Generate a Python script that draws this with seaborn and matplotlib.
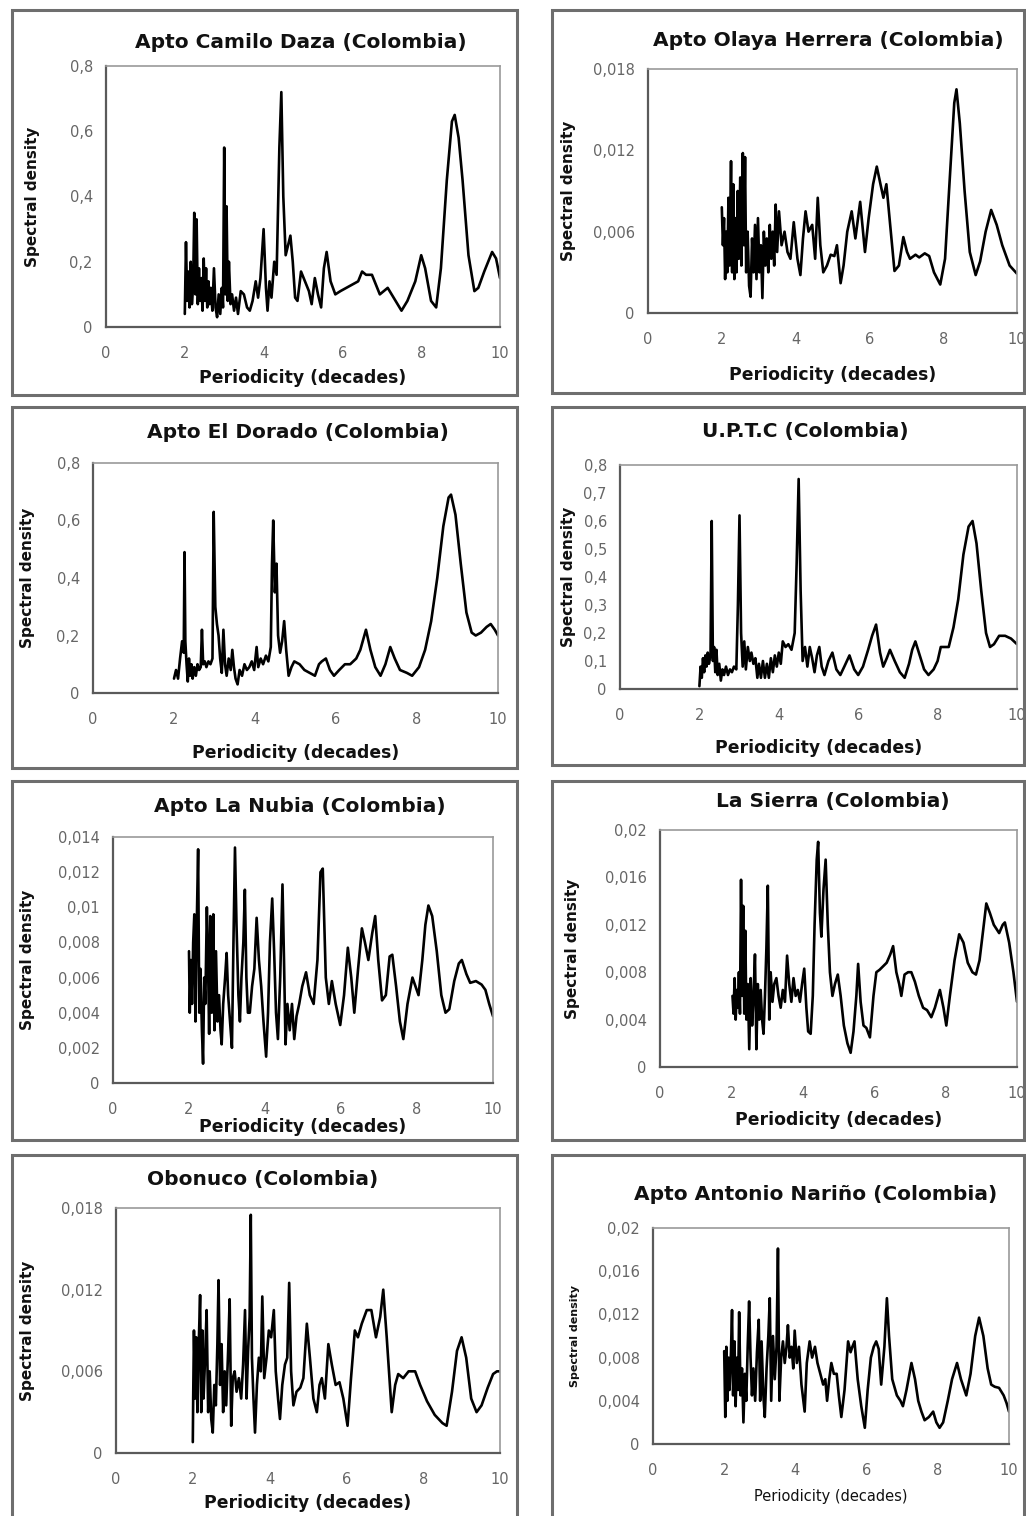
import matplotlib
matplotlib.use("Agg")
import matplotlib.pyplot as plt
import matplotlib.patches as patches
import seaborn as sns

# ---- data (periodicity in decades, spectral density) ----
titles = ["Apto Camilo Daza (Colombia)", "Apto Olaya Herrera (Colombia)",
          "Apto El Dorado (Colombia)", "U.P.T.C (Colombia)",
          "Apto La Nubia (Colombia)", "La Sierra (Colombia)",
          "Obonuco (Colombia)", "Apto Antonio Nariño (Colombia)"]

x_ticks = [0, 2, 4, 6, 8, 10]
x_tick_labels = ["0", "2", "4", "6", "8", "10"]

camilo_x = [2.00, 2.03, 2.06, 2.09, 2.12, 2.15, 2.18, 2.21, 2.24, 2.27, 2.30, 2.33, 2.36, 2.39,
            2.42, 2.45, 2.48, 2.51, 2.54, 2.57, 2.60, 2.63, 2.66, 2.70, 2.74, 2.78, 2.82, 2.86,
            2.90, 2.94, 2.97, 3.00, 3.03, 3.06, 3.09, 3.12, 3.16, 3.20, 3.25, 3.30, 3.35, 3.42,
            3.50, 3.58, 3.65, 3.72, 3.80, 3.86, 3.92, 4.00, 4.06, 4.10, 4.15, 4.20, 4.27, 4.33,
            4.40, 4.45, 4.50, 4.56, 4.62, 4.68, 4.74, 4.80, 4.86, 4.95, 5.05, 5.15, 5.22, 5.30,
            5.38, 5.46, 5.53, 5.60, 5.70, 5.82, 5.95, 6.10, 6.25, 6.40, 6.50, 6.60, 6.75, 6.85,
            6.95, 7.05, 7.15, 7.30, 7.50, 7.65, 7.85, 8.00, 8.10, 8.25, 8.38, 8.50, 8.65, 8.78,
            8.85, 8.95, 9.05, 9.20, 9.35, 9.45, 9.60, 9.80, 9.90, 10.00]
camilo_y = [0.04, 0.26, 0.08, 0.17, 0.06, 0.20, 0.07, 0.12, 0.35, 0.10, 0.33, 0.07, 0.18, 0.08,
            0.15, 0.05, 0.21, 0.08, 0.18, 0.06, 0.14, 0.07, 0.12, 0.05, 0.18, 0.06, 0.03, 0.10,
            0.04, 0.12, 0.06, 0.55, 0.10, 0.37, 0.08, 0.20, 0.07, 0.10, 0.05, 0.09, 0.04, 0.11,
            0.10, 0.06, 0.05, 0.08, 0.14, 0.09, 0.15, 0.30, 0.12, 0.05, 0.14, 0.09, 0.20, 0.16,
            0.55, 0.72, 0.40, 0.22, 0.25, 0.28, 0.20, 0.09, 0.08, 0.17, 0.14, 0.11, 0.07, 0.15,
            0.10, 0.06, 0.18, 0.23, 0.14, 0.10, 0.11, 0.12, 0.13, 0.14, 0.17, 0.16, 0.16, 0.13,
            0.10, 0.11, 0.12, 0.09, 0.05, 0.08, 0.14, 0.22, 0.18, 0.08, 0.06, 0.18, 0.45, 0.63,
            0.65, 0.58, 0.45, 0.22, 0.11, 0.12, 0.17, 0.23, 0.21, 0.15]

olaya_x = [2.00, 2.03, 2.06, 2.09, 2.12, 2.15, 2.18, 2.21, 2.25, 2.28, 2.31, 2.34, 2.37, 2.40,
           2.43, 2.46, 2.50, 2.53, 2.57, 2.60, 2.63, 2.66, 2.70, 2.74, 2.78, 2.82, 2.86, 2.90,
           2.94, 2.98, 3.02, 3.06, 3.10, 3.14, 3.18, 3.22, 3.26, 3.30, 3.34, 3.38, 3.42, 3.46,
           3.50, 3.55, 3.62, 3.70, 3.78, 3.86, 3.95, 4.05, 4.13, 4.20, 4.27, 4.35, 4.45, 4.53,
           4.60, 4.67, 4.75, 4.85, 4.95, 5.05, 5.12, 5.22, 5.30, 5.40, 5.52, 5.62, 5.75, 5.88,
           5.98, 6.10, 6.20, 6.30, 6.38, 6.46, 6.58, 6.68, 6.80, 6.92, 7.02, 7.10, 7.25, 7.35,
           7.50, 7.62, 7.75, 7.92, 8.05, 8.18, 8.30, 8.36, 8.45, 8.58, 8.72, 8.88, 9.00, 9.15,
           9.30, 9.45, 9.60, 9.80, 10.00]
olaya_y = [0.0078, 0.0050, 0.0070, 0.0025, 0.0060, 0.0030, 0.0085, 0.0035, 0.0112, 0.0030,
           0.0095, 0.0025, 0.0070, 0.0030, 0.0090, 0.0040, 0.0100, 0.0035, 0.0118, 0.0050,
           0.0115, 0.0030, 0.0060, 0.0020, 0.0012, 0.0055, 0.0030, 0.0065, 0.0025, 0.0070,
           0.0030, 0.0050, 0.0011, 0.0060, 0.0035, 0.0055, 0.0030, 0.0065, 0.0040, 0.0060,
           0.0035, 0.0080, 0.0045, 0.0075, 0.0050, 0.0060, 0.0045, 0.0040, 0.0067, 0.0040,
           0.0028, 0.0055, 0.0075, 0.0060, 0.0065, 0.0040, 0.0085, 0.0050, 0.0030, 0.0035,
           0.0043, 0.0042, 0.0050, 0.0022, 0.0035, 0.0060, 0.0075, 0.0055, 0.0082, 0.0045,
           0.0070, 0.0095, 0.0108, 0.0095, 0.0085, 0.0095, 0.0060, 0.0031, 0.0035, 0.0056,
           0.0045, 0.0040, 0.0043, 0.0041, 0.0044, 0.0042, 0.0030, 0.0021, 0.0040, 0.0100,
           0.0155, 0.0165, 0.0140, 0.0090, 0.0045, 0.0028, 0.0038, 0.0060, 0.0076, 0.0065,
           0.0050, 0.0035, 0.0029]

dorado_x = [2.00, 2.05, 2.10, 2.15, 2.20, 2.24, 2.26, 2.28, 2.31, 2.34, 2.37, 2.40, 2.43, 2.46,
            2.50, 2.54, 2.58, 2.62, 2.66, 2.69, 2.72, 2.76, 2.80, 2.85, 2.90, 2.95, 2.98, 3.02,
            3.06, 3.10, 3.14, 3.18, 3.22, 3.26, 3.30, 3.35, 3.40, 3.44, 3.48, 3.52, 3.57, 3.62,
            3.68, 3.74, 3.80, 3.86, 3.92, 3.98, 4.04, 4.08, 4.14, 4.20, 4.27, 4.33, 4.39, 4.42,
            4.45, 4.49, 4.53, 4.57, 4.62, 4.67, 4.72, 4.77, 4.83, 4.90, 4.97, 5.10, 5.22, 5.35,
            5.48, 5.58, 5.65, 5.75, 5.85, 5.95, 6.08, 6.22, 6.35, 6.50, 6.60, 6.74, 6.85, 6.97,
            7.10, 7.22, 7.34, 7.45, 7.58, 7.75, 7.88, 8.05, 8.20, 8.35, 8.50, 8.65, 8.78, 8.84,
            8.95, 9.08, 9.22, 9.35, 9.45, 9.58, 9.72, 9.82, 9.92, 10.00]
dorado_y = [0.05, 0.08, 0.05, 0.12, 0.18, 0.14, 0.49, 0.18, 0.10, 0.04, 0.12, 0.06, 0.10, 0.05,
            0.09, 0.06, 0.10, 0.08, 0.09, 0.22, 0.10, 0.11, 0.09, 0.11, 0.10, 0.12, 0.63, 0.30,
            0.24, 0.20, 0.12, 0.07, 0.22, 0.10, 0.06, 0.12, 0.08, 0.15, 0.09, 0.05, 0.03, 0.08,
            0.06, 0.10, 0.08, 0.09, 0.11, 0.08, 0.16, 0.09, 0.12, 0.10, 0.13, 0.11, 0.16, 0.45,
            0.60, 0.35, 0.45, 0.20, 0.14, 0.18, 0.25, 0.15, 0.06, 0.09, 0.11, 0.10, 0.08, 0.07,
            0.06, 0.10, 0.11, 0.12, 0.08, 0.06, 0.08, 0.10, 0.10, 0.12, 0.15, 0.22, 0.15, 0.09,
            0.06, 0.10, 0.16, 0.12, 0.08, 0.07, 0.06, 0.09, 0.15, 0.25, 0.40, 0.58, 0.68, 0.69,
            0.62, 0.45, 0.28, 0.21, 0.20, 0.21, 0.23, 0.24, 0.22, 0.20]

uptc_x = [2.00, 2.03, 2.06, 2.09, 2.12, 2.15, 2.18, 2.21, 2.24, 2.28, 2.31, 2.34, 2.37, 2.40,
          2.43, 2.46, 2.50, 2.54, 2.58, 2.62, 2.67, 2.72, 2.77, 2.82, 2.87, 2.93, 2.97, 3.01,
          3.05, 3.09, 3.13, 3.17, 3.22, 3.27, 3.31, 3.36, 3.41, 3.46, 3.50, 3.55, 3.60, 3.65,
          3.70, 3.75, 3.80, 3.85, 3.90, 3.95, 4.00, 4.05, 4.10, 4.17, 4.24, 4.32, 4.40, 4.45,
          4.50, 4.55, 4.60, 4.66, 4.72, 4.78, 4.84, 4.90, 4.96, 5.02, 5.08, 5.15, 5.25, 5.35,
          5.45, 5.55, 5.65, 5.78, 5.90, 6.00, 6.12, 6.25, 6.35, 6.45, 6.55, 6.63, 6.72, 6.80,
          6.92, 7.05, 7.17, 7.28, 7.36, 7.44, 7.55, 7.66, 7.77, 7.90, 8.00, 8.08, 8.18, 8.28,
          8.40, 8.52, 8.65, 8.78, 8.88, 8.98, 9.10, 9.22, 9.32, 9.42, 9.55, 9.70, 9.85, 10.00]
uptc_y = [0.01, 0.08, 0.04, 0.11, 0.06, 0.12, 0.08, 0.13, 0.09, 0.12, 0.60, 0.10, 0.15, 0.06,
          0.14, 0.05, 0.09, 0.03, 0.07, 0.05, 0.08, 0.05, 0.07, 0.06, 0.08, 0.07, 0.30, 0.62,
          0.20, 0.08, 0.17, 0.07, 0.15, 0.10, 0.13, 0.09, 0.11, 0.04, 0.09, 0.04, 0.10, 0.04,
          0.09, 0.04, 0.11, 0.06, 0.12, 0.08, 0.13, 0.09, 0.17, 0.15, 0.16, 0.14, 0.20, 0.45,
          0.75, 0.35, 0.10, 0.15, 0.08, 0.15, 0.11, 0.06, 0.12, 0.15, 0.08, 0.05, 0.10, 0.13,
          0.07, 0.05, 0.08, 0.12, 0.07, 0.05, 0.08, 0.14, 0.19, 0.23, 0.13, 0.08, 0.11, 0.14,
          0.10, 0.06, 0.04, 0.09, 0.14, 0.17, 0.12, 0.07, 0.05, 0.07, 0.10, 0.15, 0.15, 0.15,
          0.22, 0.32, 0.48, 0.58, 0.60, 0.52, 0.35, 0.20, 0.15, 0.16, 0.19, 0.19, 0.18, 0.16]

nubia_x = [2.00, 2.02, 2.05, 2.08, 2.11, 2.14, 2.17, 2.20, 2.24, 2.27, 2.30, 2.34, 2.37, 2.40,
           2.43, 2.47, 2.50, 2.53, 2.56, 2.60, 2.64, 2.67, 2.71, 2.75, 2.79, 2.83, 2.86, 2.90,
           2.95, 2.99, 3.03, 3.08, 3.13, 3.17, 3.21, 3.25, 3.30, 3.34, 3.38, 3.43, 3.47, 3.51,
           3.55, 3.60, 3.66, 3.72, 3.78, 3.84, 3.90, 3.96, 4.03, 4.08, 4.13, 4.19, 4.24, 4.29,
           4.34, 4.40, 4.46, 4.50, 4.54, 4.59, 4.65, 4.71, 4.77, 4.83, 4.90, 4.98, 5.08, 5.18,
           5.28, 5.38, 5.46, 5.52, 5.60, 5.68, 5.76, 5.86, 5.98, 6.08, 6.18, 6.27, 6.35, 6.45,
           6.55, 6.63, 6.72, 6.82, 6.90, 6.98, 7.08, 7.18, 7.28, 7.35, 7.45, 7.55, 7.64, 7.75,
           7.88, 7.96, 8.04, 8.14, 8.22, 8.30, 8.40, 8.52, 8.64, 8.75, 8.85, 8.98, 9.10, 9.18,
           9.30, 9.40, 9.55, 9.70, 9.80, 9.90, 10.00]
nubia_y = [0.0075, 0.0040, 0.0070, 0.0045, 0.0080, 0.0096, 0.0035, 0.0085, 0.0133, 0.0040,
           0.0065, 0.0030, 0.0011, 0.0060, 0.0045, 0.0100, 0.0070, 0.0028, 0.0095, 0.0040,
           0.0096, 0.0030, 0.0075, 0.0035, 0.0050, 0.0030, 0.0022, 0.0045, 0.0060, 0.0074,
           0.0050, 0.0035, 0.0020, 0.0080, 0.0134, 0.0090, 0.0050, 0.0035, 0.0060, 0.0080,
           0.0110, 0.0060, 0.0040, 0.0040, 0.0055, 0.0065, 0.0094, 0.0070, 0.0055, 0.0035,
           0.0015, 0.0040, 0.0080, 0.0105, 0.0075, 0.0040, 0.0025, 0.0060, 0.0113, 0.0070,
           0.0022, 0.0045, 0.0030, 0.0045, 0.0025, 0.0038, 0.0045, 0.0055, 0.0063, 0.0050,
           0.0045, 0.0070, 0.0120, 0.0122, 0.0060, 0.0045, 0.0058, 0.0045, 0.0033, 0.0050,
           0.0077, 0.0060, 0.0040, 0.0065, 0.0088, 0.0080, 0.0070, 0.0085, 0.0095, 0.0070,
           0.0047, 0.0050, 0.0072, 0.0073, 0.0055, 0.0035, 0.0025, 0.0045, 0.0060, 0.0055,
           0.0050, 0.0070, 0.0090, 0.0101, 0.0095, 0.0075, 0.0050, 0.0040, 0.0042, 0.0058,
           0.0068, 0.0070, 0.0062, 0.0057, 0.0058, 0.0056, 0.0053, 0.0045, 0.0038]

sierra_x = [2.03, 2.06, 2.09, 2.12, 2.15, 2.18, 2.21, 2.24, 2.27, 2.30, 2.33, 2.36, 2.39, 2.42,
            2.46, 2.50, 2.54, 2.58, 2.62, 2.66, 2.70, 2.74, 2.78, 2.82, 2.86, 2.90, 2.94, 2.98,
            3.02, 3.06, 3.10, 3.15, 3.20, 3.26, 3.32, 3.38, 3.44, 3.50, 3.56, 3.62, 3.68, 3.74,
            3.80, 3.86, 3.92, 3.98, 4.04, 4.10, 4.15, 4.22, 4.28, 4.33, 4.39, 4.43, 4.48, 4.52,
            4.58, 4.64, 4.70, 4.76, 4.83, 4.90, 4.98, 5.06, 5.15, 5.25, 5.34, 5.42, 5.50, 5.55,
            5.62, 5.70, 5.78, 5.88, 5.98, 6.06, 6.15, 6.25, 6.35, 6.45, 6.53, 6.62, 6.70, 6.76,
            6.85, 6.95, 7.04, 7.14, 7.25, 7.37, 7.48, 7.60, 7.70, 7.84, 7.94, 8.02, 8.12, 8.25,
            8.38, 8.50, 8.62, 8.75, 8.85, 8.95, 9.05, 9.14, 9.24, 9.35, 9.50, 9.60, 9.66, 9.78,
            9.90, 10.00]
sierra_y = [0.0060, 0.0045, 0.0075, 0.0040, 0.0065, 0.0050, 0.0080, 0.0045, 0.0158, 0.0060,
            0.0136, 0.0045, 0.0115, 0.0040, 0.0070, 0.0015, 0.0075, 0.0035, 0.0060, 0.0095,
            0.0015, 0.0070, 0.0040, 0.0065, 0.0040, 0.0028, 0.0060, 0.0100, 0.0153, 0.0040,
            0.0080, 0.0055, 0.0070, 0.0075, 0.0060, 0.0050, 0.0065, 0.0055, 0.0094, 0.0070,
            0.0055, 0.0075, 0.0060, 0.0065, 0.0055, 0.0070, 0.0083, 0.0050, 0.0030, 0.0028,
            0.0060, 0.0120, 0.0175, 0.0190, 0.0130, 0.0110, 0.0150, 0.0175, 0.0120, 0.0080,
            0.0060, 0.0070, 0.0078, 0.0060, 0.0035, 0.0020, 0.0012, 0.0030, 0.0060, 0.0087,
            0.0055, 0.0035, 0.0033, 0.0025, 0.0060, 0.0080, 0.0082, 0.0085, 0.0088, 0.0095,
            0.0102, 0.0080, 0.0070, 0.0060, 0.0078, 0.0080, 0.0080, 0.0072, 0.0060, 0.0050,
            0.0048, 0.0042, 0.0050, 0.0065, 0.0050, 0.0035, 0.0060, 0.0090, 0.0112, 0.0105,
            0.0088, 0.0080, 0.0078, 0.0090, 0.0115, 0.0138, 0.0130, 0.0120, 0.0113, 0.0120,
            0.0122, 0.0105, 0.0080, 0.0055]

obonuco_x = [2.00, 2.01, 2.03, 2.06, 2.09, 2.12, 2.15, 2.19, 2.22, 2.25, 2.28, 2.32, 2.36, 2.40,
             2.44, 2.48, 2.52, 2.56, 2.60, 2.64, 2.67, 2.71, 2.75, 2.79, 2.83, 2.87, 2.92, 2.96,
             3.00, 3.04, 3.09, 3.14, 3.20, 3.26, 3.31, 3.36, 3.40, 3.44, 3.48, 3.51, 3.54, 3.58,
             3.62, 3.67, 3.72, 3.77, 3.81, 3.86, 3.92, 3.98, 4.04, 4.11, 4.16, 4.22, 4.27, 4.33,
             4.40, 4.46, 4.51, 4.56, 4.62, 4.70, 4.80, 4.88, 4.97, 5.05, 5.14, 5.23, 5.30, 5.36,
             5.44, 5.53, 5.62, 5.72, 5.82, 5.92, 6.03, 6.12, 6.22, 6.30, 6.40, 6.53, 6.65, 6.77,
             6.88, 6.96, 7.05, 7.18, 7.27, 7.35, 7.48, 7.62, 7.79, 7.92, 8.10, 8.30, 8.50, 8.61,
             8.75, 8.88, 9.00, 9.12, 9.25, 9.39, 9.52, 9.68, 9.82, 9.92, 10.00]
obonuco_y = [0.0008, 0.0040, 0.0090, 0.0040, 0.0085, 0.0030, 0.0075, 0.0116, 0.0030, 0.0090,
             0.0040, 0.0070, 0.0105, 0.0030, 0.0060, 0.0025, 0.0015, 0.0050, 0.0035, 0.0080,
             0.0127, 0.0050, 0.0080, 0.0030, 0.0060, 0.0035, 0.0075, 0.0113, 0.0020, 0.0055,
             0.0060, 0.0045, 0.0055, 0.0040, 0.0065, 0.0105, 0.0040, 0.0075, 0.0100, 0.0175,
             0.0070, 0.0040, 0.0015, 0.0050, 0.0070, 0.0060, 0.0115, 0.0055, 0.0070, 0.0090,
             0.0085, 0.0105, 0.0060, 0.0040, 0.0025, 0.0050, 0.0065, 0.0070, 0.0125, 0.0060,
             0.0035, 0.0045, 0.0048, 0.0055, 0.0095, 0.0070, 0.0040, 0.0030, 0.0050, 0.0055,
             0.0040, 0.0080, 0.0065, 0.0050, 0.0052, 0.0040, 0.0020, 0.0055, 0.0090, 0.0085,
             0.0095, 0.0105, 0.0105, 0.0085, 0.0100, 0.0120, 0.0085, 0.0030, 0.0050, 0.0058,
             0.0055, 0.0060, 0.0060, 0.0050, 0.0038, 0.0028, 0.0022, 0.0020, 0.0045, 0.0075,
             0.0085, 0.0070, 0.0040, 0.0030, 0.0035, 0.0048, 0.0058, 0.0060, 0.0060]

narino_x = [2.00, 2.03, 2.06, 2.09, 2.12, 2.15, 2.19, 2.22, 2.25, 2.29, 2.32, 2.36, 2.39, 2.42,
            2.46, 2.50, 2.54, 2.58, 2.62, 2.66, 2.70, 2.74, 2.78, 2.82, 2.87, 2.92, 2.97, 3.01,
            3.05, 3.10, 3.14, 3.19, 3.24, 3.28, 3.32, 3.37, 3.42, 3.47, 3.51, 3.55, 3.60, 3.65,
            3.70, 3.75, 3.79, 3.84, 3.89, 3.94, 3.98, 4.04, 4.10, 4.17, 4.26, 4.32, 4.40, 4.47,
            4.55, 4.62, 4.70, 4.78, 4.84, 4.89, 4.95, 5.01, 5.08, 5.16, 5.22, 5.29, 5.38, 5.48,
            5.55, 5.60, 5.66, 5.75, 5.85, 5.95, 6.03, 6.12, 6.20, 6.27, 6.34, 6.41, 6.50, 6.57,
            6.63, 6.72, 6.85, 6.95, 7.02, 7.12, 7.26, 7.36, 7.45, 7.54, 7.63, 7.75, 7.87, 7.96,
            8.05, 8.15, 8.28, 8.40, 8.54, 8.65, 8.80, 8.92, 9.05, 9.16, 9.28, 9.40, 9.50, 9.60,
            9.72, 9.85, 9.93, 10.00]
narino_y = [0.0086, 0.0025, 0.0090, 0.0040, 0.0080, 0.0050, 0.0085, 0.0124, 0.0045, 0.0095,
            0.0035, 0.0080, 0.0050, 0.0122, 0.0045, 0.0070, 0.0020, 0.0065, 0.0040, 0.0090,
            0.0132, 0.0080, 0.0045, 0.0070, 0.0040, 0.0085, 0.0115, 0.0040, 0.0095, 0.0045,
            0.0025, 0.0070, 0.0100, 0.0135, 0.0040, 0.0100, 0.0060, 0.0090, 0.0181, 0.0040,
            0.0080, 0.0095, 0.0075, 0.0090, 0.0110, 0.0080, 0.0090, 0.0070, 0.0105, 0.0075,
            0.0090, 0.0055, 0.0030, 0.0075, 0.0095, 0.0080, 0.0090, 0.0075, 0.0065, 0.0055,
            0.0060, 0.0040, 0.0060, 0.0075, 0.0065, 0.0065, 0.0045, 0.0025, 0.0050, 0.0095,
            0.0085, 0.0090, 0.0095, 0.0060, 0.0035, 0.0015, 0.0050, 0.0080, 0.0090, 0.0095,
            0.0088, 0.0055, 0.0090, 0.0135, 0.0100, 0.0060, 0.0045, 0.0040, 0.0035, 0.0050,
            0.0075, 0.0060, 0.0040, 0.0030, 0.0022, 0.0025, 0.0030, 0.0020, 0.0015, 0.0020,
            0.0040, 0.0060, 0.0075, 0.0060, 0.0045, 0.0065, 0.0100, 0.0117, 0.0100, 0.0070,
            0.0055, 0.0053, 0.0052, 0.0045, 0.0038, 0.0030]

series_x = [camilo_x, olaya_x, dorado_x, uptc_x, nubia_x, sierra_x, obonuco_x, narino_x]
series_y = [camilo_y, olaya_y, dorado_y, uptc_y, nubia_y, sierra_y, obonuco_y, narino_y]

y_ticks = [[0, 0.2, 0.4, 0.6, 0.8],
           [0, 0.006, 0.012, 0.018],
           [0, 0.2, 0.4, 0.6, 0.8],
           [0, 0.1, 0.2, 0.3, 0.4, 0.5, 0.6, 0.7, 0.8],
           [0, 0.002, 0.004, 0.006, 0.008, 0.01, 0.012, 0.014],
           [0, 0.004, 0.008, 0.012, 0.016, 0.02],
           [0, 0.006, 0.012, 0.018],
           [0, 0.004, 0.008, 0.012, 0.016, 0.02]]
y_tick_labels = [["0", "0,2", "0,4", "0,6", "0,8"],
                 ["0", "0,006", "0,012", "0,018"],
                 ["0", "0,2", "0,4", "0,6", "0,8"],
                 ["0", "0,1", "0,2", "0,3", "0,4", "0,5", "0,6", "0,7", "0,8"],
                 ["0", "0,002", "0,004", "0,006", "0,008", "0,01", "0,012", "0,014"],
                 ["0", "0,004", "0,008", "0,012", "0,016", "0,02"],
                 ["0", "0,006", "0,012", "0,018"],
                 ["0", "0,004", "0,008", "0,012", "0,016", "0,02"]]

# ---- layout in pixels: plot box (l, t, r, b), frame (l, t, r, b), title centre, xlabel y, ylabel x ----
W, H = 1026, 1516
plot_boxes = [(106, 66, 500, 327), (648, 69, 1017, 313),
              (93, 463, 498, 693), (620, 465, 1017, 689),
              (113, 837, 493, 1083), (660, 830, 1017, 1067),
              (116, 1208, 500, 1453), (653, 1228, 1009, 1444)]
frames = [(12, 10, 517, 395), (552, 10, 1024, 393),
          (12, 407, 517, 768), (552, 407, 1024, 765),
          (12, 781, 517, 1140), (552, 781, 1024, 1140),
          (12, 1155, 517, 1530), (552, 1155, 1024, 1530)]
title_pos = [(301, 43), (828, 40), (298, 432), (805, 432),
             (300, 806), (833, 801), (263, 1180), (816, 1195)]
xlabel_y = [378, 375, 753, 748, 1127, 1120, 1503, 1496]
ylabel_x = [33, 568, 28, 568, 28, 573, 28, 575]

sns.set_style("white")
plt.rcParams["font.family"] = ["DejaVu Sans"]

fig = plt.figure(figsize=(W / 100, H / 100), dpi=100)
fig.patch.set_facecolor("white")

for i in range(8):
    # outer frame of each chart
    fl, ft, fr, fb = frames[i]
    fig.patches.append(patches.Rectangle((fl / W, 1 - fb / H), (fr - fl) / W, (fb - ft) / H,
                                         transform=fig.transFigure, fill=False,
                                         edgecolor="#6e6e6e", linewidth=2.2))

    l, t, r, b = plot_boxes[i]
    ax = fig.add_axes([l / W, 1 - b / H, (r - l) / W, (b - t) / H])
    sns.lineplot(x=series_x[i], y=series_y[i], ax=ax, color="black",
                 linewidth=1.9, estimator=None, sort=False)

    ax.set_xlim(0, 10)
    ax.set_ylim(0, y_ticks[i][-1])
    ax.set_xticks(x_ticks)
    ax.set_xticklabels(x_tick_labels)
    ax.set_yticks(y_ticks[i])
    ax.set_yticklabels(y_tick_labels[i])
    ax.tick_params(direction="inout", length=7, width=1.2, colors="#666666",
                   labelsize=10.5)
    ax.tick_params(axis="x", pad=10)
    ax.tick_params(axis="y", pad=6)
    for side in ["top", "right"]:
        ax.spines[side].set_color("#9a9a9a")
        ax.spines[side].set_linewidth(1.2)
    for side in ["left", "bottom"]:
        ax.spines[side].set_color("#5a5a5a")
        ax.spines[side].set_linewidth(1.6)
    ax.set_xlabel("")
    ax.set_ylabel("")

    small = i == 7
    tx, ty = title_pos[i]
    fig.text(tx / W, 1 - ty / H, titles[i], ha="center", va="center",
             fontsize=14.5, fontweight="bold", color="#111111")
    fig.text(((l + r) / 2) / W, 1 - xlabel_y[i] / H, "Periodicity (decades)",
             ha="center", va="center", fontsize=10.5 if small else 12.4,
             fontweight="normal" if small else "bold", color="#111111")
    fig.text(ylabel_x[i] / W, 1 - ((t + b) / 2) / H, "Spectral density",
             ha="center", va="center", rotation=90,
             fontsize=8 if small else 11, fontweight="bold", color="#111111")

fig.savefig("out.png", dpi=100, facecolor="white")
